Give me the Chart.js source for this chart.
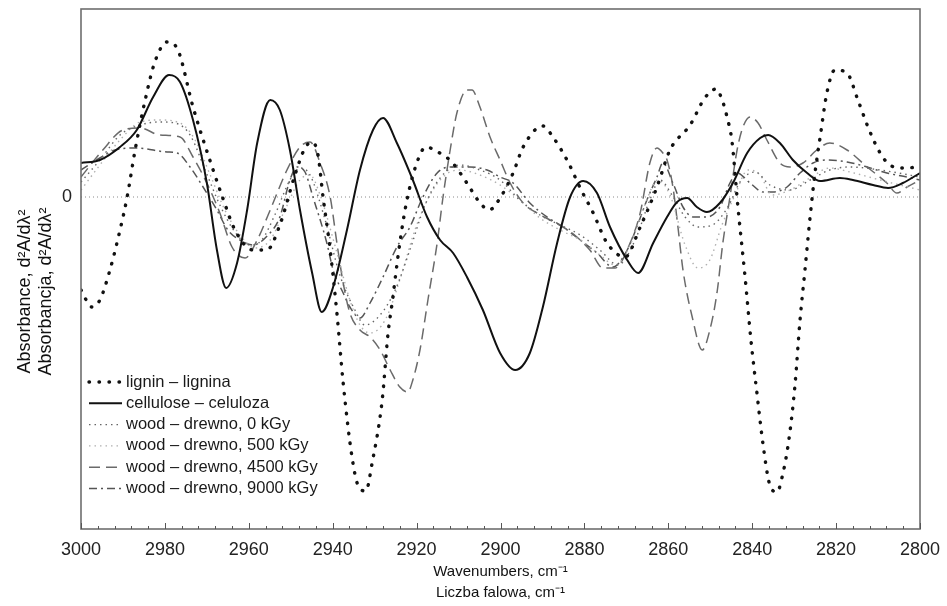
<!DOCTYPE html>
<html>
<head>
<meta charset="utf-8">
<script src="https://cdn.jsdelivr.net/npm/chart.js@4.4.1/dist/chart.umd.min.js"></script>
<style>
  html, body { margin: 0; padding: 0; background: #fff; }
  #wrap { width: 947px; height: 606px; }
</style>
</head>
<body>
<div id="wrap"><canvas id="chart" width="947" height="606"></canvas></div>
<script>
// values (wavenumber in cm-1, second derivative in arbitrary units)
const ligninWn = [3000, 2997.4, 2995.5, 2993.1, 2990.7, 2989.0, 2987.1, 2984.7, 2982.4, 2979.5, 2976.9, 2973.3, 2968.5, 2966.2, 2963.3, 2959.0, 2955.7, 2952.6, 2949.0, 2946.6, 2944.9, 2943.5, 2942.3, 2940.6, 2939.0, 2937.5, 2935.4, 2934.0, 2932.1, 2930.6, 2928.2, 2926.8, 2925.9, 2924.0, 2922.3, 2919.7, 2917.8, 2914.9, 2911.6, 2907.7, 2905.4, 2902.7, 2900.1, 2897.0, 2894.6, 2889.9, 2887.5, 2883.9, 2881.0, 2877.9, 2874.6, 2870.3, 2866.7, 2862.7, 2859.6, 2854.8, 2851.3, 2848.6, 2847.0, 2846.0, 2844.8, 2843.4, 2841.7, 2840.3, 2838.9, 2837.4, 2835.8, 2834.1, 2832.6, 2831.2, 2829.8, 2828.6, 2827.4, 2826.2, 2825.0, 2823.8, 2822.2, 2820.3, 2817.4, 2814.8, 2812.4, 2809.5, 2807.2, 2804.1, 2800];
const ligninAbs = [-0.93, -1.10, -1.03, -0.73, -0.33, 0, 0.47, 0.97, 1.35, 1.55, 1.47, 0.90, 0.27, -0.01, -0.33, -0.53, -0.53, -0.28, 0.22, 0.49, 0.55, 0.42, 0, -0.53, -1.16, -1.86, -2.60, -2.88, -2.94, -2.66, -2.03, -1.36, -1.08, -0.46, -0.03, 0.37, 0.50, 0.45, 0.35, 0.12, -0.03, -0.13, -0.01, 0.24, 0.50, 0.71, 0.60, 0.35, 0.09, -0.16, -0.46, -0.60, -0.30, 0.10, 0.47, 0.72, 0.99, 1.08, 0.95, 0.80, 0.55, -0.10, -0.80, -1.43, -1.95, -2.48, -2.88, -2.95, -2.75, -2.41, -1.88, -1.23, -0.72, -0.20, 0.25, 0.60, 1.04, 1.27, 1.24, 0.97, 0.70, 0.44, 0.32, 0.29, 0.30];

const celluloseWn = [3000, 2995.5, 2990.7, 2986.7, 2982.8, 2979.0, 2976.4, 2973.3, 2970.0, 2967.6, 2965.4, 2962.8, 2960.4, 2958.0, 2954.9, 2952.6, 2950.2, 2947.8, 2944.9, 2942.6, 2939.9, 2936.6, 2933.5, 2930.4, 2928.0, 2924.7, 2920.9, 2917.5, 2914.4, 2911.3, 2908.0, 2904.2, 2900.1, 2896.5, 2893.0, 2889.9, 2886.5, 2883.4, 2880.3, 2877.0, 2873.9, 2869.8, 2867.2, 2863.6, 2860.3, 2857.9, 2855.5, 2853.2, 2850.8, 2847.7, 2844.6, 2841.2, 2838.1, 2836.2, 2833.4, 2830.3, 2826.9, 2823.8, 2819.1, 2816.0, 2811.2, 2807.6, 2804.1, 2800];
const celluloseAbs = [0.34, 0.37, 0.50, 0.67, 1.00, 1.22, 1.15, 0.77, 0.14, -0.53, -0.91, -0.66, -0.13, 0.54, 0.97, 0.87, 0.47, -0.13, -0.76, -1.15, -0.90, -0.33, 0.27, 0.67, 0.79, 0.54, 0.17, -0.20, -0.43, -0.56, -0.80, -1.13, -1.56, -1.73, -1.56, -1.10, -0.46, 0, 0.16, 0.04, -0.30, -0.63, -0.76, -0.46, -0.20, -0.05, -0.01, -0.10, -0.15, -0.06, 0.14, 0.44, 0.59, 0.62, 0.54, 0.37, 0.24, 0.16, 0.19, 0.17, 0.12, 0.09, 0.14, 0.24];

const wood0Wn = [3000, 2995.5, 2990.7, 2985.9, 2981.2, 2977.6, 2974.0, 2970.4, 2966.9, 2963.3, 2959.7, 2956.9, 2953.8, 2950.2, 2947.8, 2945.4, 2941.8, 2938.3, 2934.7, 2932.3, 2928.7, 2925.1, 2921.6, 2918.0, 2914.4, 2909.7, 2904.9, 2900.1, 2895.4, 2890.6, 2885.8, 2881.0, 2876.3, 2872.0, 2867.9, 2864.4, 2862.0, 2859.1, 2856.0, 2852.9, 2849.5, 2845.8, 2842.9, 2839.3, 2835.8, 2831.0, 2826.2, 2821.5, 2816.7, 2809.5, 2800];
const wood0Abs = [0.15, 0.37, 0.62, 0.72, 0.75, 0.74, 0.62, 0.27, -0.08, -0.35, -0.48, -0.43, -0.18, 0.17, 0.29, 0.22, -0.23, -0.78, -1.13, -1.28, -1.18, -0.93, -0.53, -0.08, 0.19, 0.32, 0.27, 0.17, -0.03, -0.18, -0.28, -0.38, -0.53, -0.68, -0.43, -0.03, 0.17, 0.02, -0.20, -0.30, -0.28, -0.10, 0.15, 0.25, 0.12, 0.07, 0.17, 0.27, 0.30, 0.27, 0.20];

const wood500Wn = [3000, 2995.5, 2990.7, 2985.9, 2981.2, 2976.4, 2972.8, 2969.2, 2965.7, 2962.1, 2958.5, 2954.9, 2951.4, 2947.8, 2945.4, 2943.0, 2939.5, 2935.9, 2933.5, 2931.1, 2927.5, 2924.0, 2920.4, 2916.8, 2913.2, 2909.7, 2904.9, 2900.1, 2895.4, 2890.6, 2885.8, 2881.0, 2876.3, 2872.7, 2869.1, 2865.6, 2862.5, 2859.6, 2856.0, 2852.9, 2850.1, 2847.2, 2844.1, 2841.0, 2838.1, 2835.3, 2831.0, 2826.2, 2821.5, 2816.7, 2809.5, 2800];
const wood500Abs = [0.07, 0.32, 0.57, 0.75, 0.77, 0.74, 0.57, 0.22, -0.13, -0.38, -0.51, -0.43, -0.13, 0.17, 0.22, 0.02, -0.48, -1.03, -1.28, -1.36, -1.23, -0.83, -0.33, 0.02, 0.22, 0.27, 0.22, 0.12, -0.03, -0.21, -0.33, -0.43, -0.58, -0.68, -0.48, -0.08, 0.17, 0.02, -0.48, -0.71, -0.63, -0.28, 0.02, 0.27, 0.22, 0.02, 0.07, 0.19, 0.29, 0.25, 0.17, 0.07];

const wood4500Wn = [3000, 2994.8, 2990.0, 2985.9, 2981.2, 2976.4, 2973.3, 2970.0, 2966.9, 2964.0, 2960.9, 2958.0, 2954.9, 2950.9, 2947.8, 2945.4, 2943.0, 2940.6, 2939.0, 2937.5, 2935.9, 2933.5, 2931.1, 2928.7, 2926.3, 2924.0, 2922.1, 2920.9, 2919.2, 2917.3, 2915.1, 2913.7, 2912.0, 2910.4, 2908.0, 2906.8, 2904.9, 2902.5, 2900.1, 2897.7, 2894.6, 2891.3, 2888.2, 2885.1, 2881.8, 2878.7, 2875.6, 2872.7, 2869.1, 2866.7, 2864.4, 2862.7, 2861.3, 2860.3, 2858.9, 2857.7, 2856.5, 2854.3, 2851.9, 2850.1, 2848.4, 2847.0, 2845.3, 2843.6, 2842.2, 2840.5, 2838.6, 2836.5, 2833.4, 2831.0, 2827.9, 2824.6, 2821.5, 2817.4, 2812.6, 2807.9, 2805.5, 2803.1, 2800];
const wood4500Abs = [0.20, 0.47, 0.67, 0.69, 0.62, 0.60, 0.40, 0.14, -0.16, -0.50, -0.61, -0.43, -0.13, 0.27, 0.50, 0.55, 0.34, 0, -0.46, -0.86, -1.16, -1.33, -1.40, -1.53, -1.73, -1.90, -1.95, -1.83, -1.53, -1.03, -0.46, 0, 0.47, 0.84, 1.07, 1.07, 0.90, 0.60, 0.37, 0.14, -0.06, -0.16, -0.23, -0.30, -0.40, -0.53, -0.71, -0.71, -0.46, -0.16, 0.34, 0.49, 0.44, 0.37, 0.10, -0.30, -0.73, -1.20, -1.53, -1.33, -0.96, -0.46, 0, 0.47, 0.70, 0.80, 0.74, 0.57, 0.34, 0.30, 0.34, 0.47, 0.54, 0.47, 0.30, 0.14, 0.04, 0.10, 0.17];

const wood9000Wn = [3000, 2995.5, 2991.9, 2986.7, 2979.5, 2977.1, 2974.0, 2970.9, 2967.6, 2965.0, 2962.1, 2959.0, 2955.4, 2952.6, 2950.2, 2948.5, 2946.6, 2944.7, 2941.4, 2939.9, 2937.5, 2935.9, 2933.5, 2931.1, 2928.0, 2924.7, 2921.6, 2918.5, 2915.1, 2912.0, 2907.3, 2903.2, 2900.1, 2897.0, 2893.0, 2888.9, 2885.1, 2881.0, 2877.0, 2873.2, 2869.8, 2867.5, 2865.1, 2862.7, 2861.3, 2858.9, 2856.5, 2854.1, 2850.8, 2847.7, 2845.3, 2843.6, 2840.5, 2837.4, 2835.0, 2831.7, 2828.6, 2825.5, 2822.2, 2817.4, 2812.6, 2807.9, 2803.1, 2800];
const wood9000Abs = [0.27, 0.39, 0.47, 0.49, 0.45, 0.44, 0.30, 0.10, -0.13, -0.33, -0.43, -0.48, -0.38, -0.20, 0.17, 0.30, 0.25, 0, -0.46, -0.73, -0.96, -1.10, -1.21, -1.06, -0.80, -0.50, -0.30, 0, 0.24, 0.30, 0.30, 0.27, 0.20, 0.14, -0.06, -0.20, -0.30, -0.43, -0.56, -0.70, -0.53, -0.30, -0.03, 0.20, 0.34, 0.14, -0.10, -0.20, -0.20, -0.10, 0.14, 0.24, 0.14, 0.05, 0.05, 0.10, 0.24, 0.34, 0.37, 0.35, 0.30, 0.24, 0.20, 0.17];

const xTicks = { min: 2800, max: 3000, major: 20, minor: 4 };
const yRange = { min: -3.32, max: 1.88 };

function pts(xs, ys) {
  return xs.map((x, i) => ({ x: x, y: ys[i] }));
}

const font = "'Liberation Sans', Arial, sans-serif";
const pad = "\u00a0".repeat(9); // pushes the rotated y title a bit lower, like the original

const datasets = [
  { label: "lignin – lignina", data: pts(ligninWn, ligninAbs), borderColor: "#111", borderWidth: 3.4, borderDash: [0.5, 9.5], borderCapStyle: "round" },
  { label: "cellulose – celuloza", data: pts(celluloseWn, celluloseAbs), borderColor: "#111", borderWidth: 2 },
  { label: "wood – drewno, 0 kGy", data: pts(wood0Wn, wood0Abs), borderColor: "#666", borderWidth: 1.4, borderDash: [1.5, 4] },
  { label: "wood – drewno, 500 kGy", data: pts(wood500Wn, wood500Abs), borderColor: "#b0b0b0", borderWidth: 1.4, borderDash: [1.5, 4] },
  { label: "wood – drewno, 4500 kGy", data: pts(wood4500Wn, wood4500Abs), borderColor: "#6a6a6a", borderWidth: 1.5, borderDash: [11, 6] },
  { label: "wood – drewno, 9000 kGy", data: pts(wood9000Wn, wood9000Abs), borderColor: "#555", borderWidth: 1.5, borderDash: [8, 4, 2, 4] },
  { label: "", data: pts([3000, 2800], [0, 0]), borderColor: "#8a8a8a", borderWidth: 1, borderDash: [1, 3], noLegend: true }
];
datasets.forEach((d) => {
  d.pointRadius = 0;
  d.fill = false;
  d.cubicInterpolationMode = "monotone";
});

// frame around plot and inward ticks on the bottom axis
const frameTicks = {
  id: "frameTicks",
  afterDatasetsDraw(chart) {
    const { ctx, chartArea: a } = chart;
    const x = chart.scales.x;
    ctx.save();
    ctx.strokeStyle = "#6e6e6e";
    ctx.lineWidth = 1.6;
    ctx.strokeRect(a.left, a.top, a.right - a.left, a.bottom - a.top);
    ctx.lineWidth = 1;
    ctx.strokeStyle = "#555";
    for (let v = xTicks.min; v <= xTicks.max; v += xTicks.minor) {
      const px = Math.round(x.getPixelForValue(v)) + 0.5;
      const len = v % xTicks.major === 0 ? 6 : 3;
      ctx.beginPath();
      ctx.moveTo(px, a.bottom);
      ctx.lineTo(px, a.bottom - len);
      ctx.stroke();
    }
    ctx.restore();
  }
};

// legend drawn inside the plot, bottom left
const innerLegend = {
  id: "innerLegend",
  afterDatasetsDraw(chart) {
    const { ctx, chartArea: a } = chart;
    ctx.save();
    ctx.font = "16.5px " + font;
    ctx.textBaseline = "middle";
    ctx.fillStyle = "#1a1a1a";
    let y = a.top + 373;
    chart.data.datasets.forEach((d) => {
      if (d.noLegend) return;
      ctx.save();
      ctx.strokeStyle = d.borderColor;
      ctx.lineWidth = d.borderWidth;
      ctx.lineCap = d.borderCapStyle || "butt";
      ctx.setLineDash(d.borderDash || []);
      ctx.beginPath();
      ctx.moveTo(a.left + 8, y);
      ctx.lineTo(a.left + 41, y);
      ctx.stroke();
      ctx.restore();
      ctx.fillText(d.label, a.left + 45, y);
      y += 21.3;
    });
    ctx.restore();
  }
};

new Chart(document.getElementById("chart"), {
  type: "line",
  data: { datasets: datasets },
  options: {
    responsive: false,
    animation: false,
    devicePixelRatio: 1,
    layout: { padding: { left: 0, right: 27, top: 9, bottom: 0 } },
    plugins: { legend: { display: false }, tooltip: { enabled: false } },
    scales: {
      x: {
        type: "linear",
        reverse: true,
        min: xTicks.min,
        max: xTicks.max,
        grid: { display: false, drawTicks: false },
        border: { display: false },
        ticks: { stepSize: xTicks.major, color: "#222", font: { family: font, size: 18 }, padding: 10, maxRotation: 0, callback: (v) => String(v) },
        title: {
          display: true,
          text: ["Wavenumbers, cm⁻¹", "Liczba falowa, cm⁻¹"],
          color: "#111",
          font: { family: font, size: 15, lineHeight: 1.4 },
          padding: { top: 2, bottom: 3 }
        },
        afterFit(scale) {
          scale.height = 77;
          scale.paddingLeft = 0;
          scale.paddingRight = 0;
        }
      },
      y: {
        min: yRange.min,
        max: yRange.max,
        grid: { display: false, drawTicks: false },
        border: { display: false },
        afterBuildTicks(scale) { scale.ticks = [{ value: 0 }]; },
        ticks: { color: "#222", font: { family: font, size: 18 }, padding: 9, callback: () => "0" },
        title: {
          display: true,
          text: ["Absorbance, d²A/dλ²" + pad, "Absorbancja, d²A/dλ²" + pad],
          color: "#111",
          font: { family: font, size: 18, lineHeight: 1.15 },
          padding: { top: 15, bottom: 0 }
        },
        afterFit(scale) {
          scale.width = 81;
          scale.paddingTop = 0;
          scale.paddingBottom = 0;
        }
      }
    }
  },
  plugins: [frameTicks, innerLegend]
});
</script>
</body>
</html>
